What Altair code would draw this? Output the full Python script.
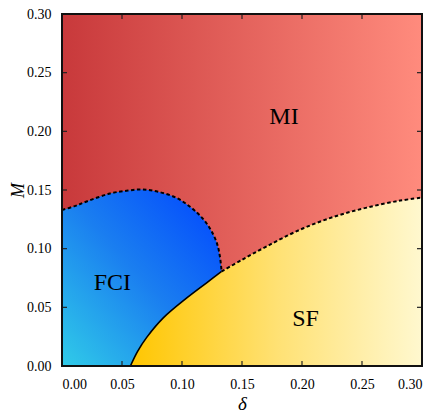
import altair as alt
import pandas as pd

# FCI / MI boundary (dashed dome)
dome_x = [0.000, 0.010, 0.020, 0.040, 0.055, 0.067, 0.080, 0.095, 0.107, 0.117, 0.124, 0.129, 0.1315, 0.133]
dome_y = [0.133, 0.136, 0.140, 0.147, 0.1495, 0.1505, 0.1485, 0.1435, 0.1355, 0.126, 0.116, 0.105, 0.094, 0.0806]
# FCI / SF boundary (solid)
solid_x = [0.057, 0.063, 0.0706, 0.0844, 0.104, 0.120, 0.133]
solid_y = [0.0, 0.0125, 0.0244, 0.041, 0.058, 0.0705, 0.0806]
# SF / MI boundary (dashed)
sfmi_x = [0.133, 0.150, 0.1706, 0.198, 0.226, 0.254, 0.282, 0.30]
sfmi_y = [0.0806, 0.0905, 0.102, 0.116, 0.127, 0.135, 0.141, 0.1435]

labels = ["MI", "FCI", "SF"]
label_x = [0.185, 0.042, 0.203]
label_y = [0.212, 0.071, 0.040]

ticks = [0.00, 0.05, 0.10, 0.15, 0.20, 0.25, 0.30]
inner_ticks = [0.05, 0.10, 0.15, 0.20, 0.25]

W, H = 360, 352
FONT = "Liberation Serif"
INTERP = "catmull-rom"

dome = pd.DataFrame({"d": dome_x, "m": dome_y})
solid = pd.DataFrame({"d": solid_x, "m": solid_y})
sfmi = pd.DataFrame({"d": sfmi_x, "m": sfmi_y})
sf_upper = pd.DataFrame({"d": solid_x + sfmi_x[1:], "m": solid_y + sfmi_y[1:]})
lab = pd.DataFrame({"t": labels, "d": label_x, "m": label_y})
frame = pd.DataFrame({"d0": [ticks[0]], "d1": [ticks[-1]], "m0": [ticks[0]], "m1": [ticks[-1]]})
tk = pd.DataFrame({"v": inner_ticks})

xs = alt.Scale(domain=[0, 0.3], nice=False, zero=False)
ys = alt.Scale(domain=[0, 0.3], nice=False, zero=False)

xaxis = alt.Axis(values=ticks, format=".2f", ticks=False, domain=False, grid=False,
                 labelFont=FONT, labelFontSize=14, labelColor="black", labelPadding=11,
                 title="δ", titleFont=FONT, titleFontSize=19, titleFontStyle="italic",
                 titleFontWeight="normal", titleColor="black", titlePadding=3)
yaxis = alt.Axis(values=ticks, format=".2f", ticks=False, domain=False, grid=False,
                 labelFont=FONT, labelFontSize=14, labelColor="black", labelPadding=11,
                 title="M", titleFont=FONT, titleFontSize=18, titleFontStyle="italic",
                 titleFontWeight="normal", titleColor="black",
                 titleX=-44, titleY=H / 2, titleBaseline="middle", titleAngle=270)

mi_grad = alt.Gradient(gradient="linear", x1=0, y1=0, x2=1, y2=0,
                       stops=[alt.GradientStop(offset=0, color="#c8393b"),
                              alt.GradientStop(offset=1, color="#ff8b7d")])
fci_grad = alt.Gradient(gradient="linear", x1=0, y1=1, x2=1, y2=0,
                        stops=[alt.GradientStop(offset=0, color="#30cbe8"),
                               alt.GradientStop(offset=0.5, color="#1a7ef0"),
                               alt.GradientStop(offset=1, color="#0044ff")])
sf_grad = alt.Gradient(gradient="linear", x1=0, y1=0, x2=1, y2=0,
                       stops=[alt.GradientStop(offset=0, color="#ffc600"),
                              alt.GradientStop(offset=0.5, color="#ffe173"),
                              alt.GradientStop(offset=1, color="#fff8cf")])

mi = alt.Chart(frame).mark_rect(color=mi_grad).encode(
    x=alt.X("d0:Q", scale=xs, axis=xaxis), x2="d1:Q",
    y=alt.Y("m0:Q", scale=ys, axis=yaxis), y2="m1:Q")

fci = alt.Chart(dome).mark_area(color=fci_grad, interpolate=INTERP).encode(
    x=alt.X("d:Q", scale=xs), y=alt.Y("m:Q", scale=ys), y2=alt.datum(0))

sf = alt.Chart(sf_upper).mark_area(color=sf_grad, interpolate=INTERP).encode(
    x=alt.X("d:Q", scale=xs), y=alt.Y("m:Q", scale=ys), y2=alt.datum(0))

dome_line = alt.Chart(dome).mark_line(color="black", strokeWidth=2, strokeDash=[3.5, 2.5],
                                      interpolate=INTERP).encode(
    x=alt.X("d:Q", scale=xs), y=alt.Y("m:Q", scale=ys))
sfmi_line = alt.Chart(sfmi).mark_line(color="black", strokeWidth=2, strokeDash=[3.5, 2.5],
                                      interpolate=INTERP).encode(
    x=alt.X("d:Q", scale=xs), y=alt.Y("m:Q", scale=ys))
solid_line = alt.Chart(solid).mark_line(color="black", strokeWidth=1.6,
                                        interpolate=INTERP).encode(
    x=alt.X("d:Q", scale=xs), y=alt.Y("m:Q", scale=ys))

text = alt.Chart(lab).mark_text(font=FONT, fontSize=24, color="black").encode(
    x=alt.X("d:Q", scale=xs), y=alt.Y("m:Q", scale=ys), text="t:N")

tb = alt.Chart(tk).mark_rule(color="#222", strokeWidth=1.2).encode(
    x=alt.X("v:Q", scale=xs), y=alt.value(H), y2=alt.value(H - 5))
tt = alt.Chart(tk).mark_rule(color="#222", strokeWidth=1.2).encode(
    x=alt.X("v:Q", scale=xs), y=alt.value(0), y2=alt.value(5))
tl = alt.Chart(tk).mark_rule(color="#222", strokeWidth=1.2).encode(
    y=alt.Y("v:Q", scale=ys), x=alt.value(0), x2=alt.value(5))
tr = alt.Chart(tk).mark_rule(color="#222", strokeWidth=1.2).encode(
    y=alt.Y("v:Q", scale=ys), x=alt.value(W), x2=alt.value(W - 5))

border = alt.Chart(frame).mark_rect(fillOpacity=0, stroke="#111", strokeWidth=2).encode(
    x=alt.X("d0:Q", scale=xs), x2="d1:Q", y=alt.Y("m0:Q", scale=ys), y2="m1:Q")

chart = alt.layer(mi, fci, sf, dome_line, sfmi_line, solid_line, text,
                  tb, tt, tl, tr, border).properties(
    width=W, height=H,
    autosize=alt.AutoSizeParams(type="none"),
    padding={"left": 54, "top": 6, "right": 6, "bottom": 46},
).configure_view(strokeWidth=0)

chart.save("out.html", embed_options={"renderer": "svg", "actions": False})
